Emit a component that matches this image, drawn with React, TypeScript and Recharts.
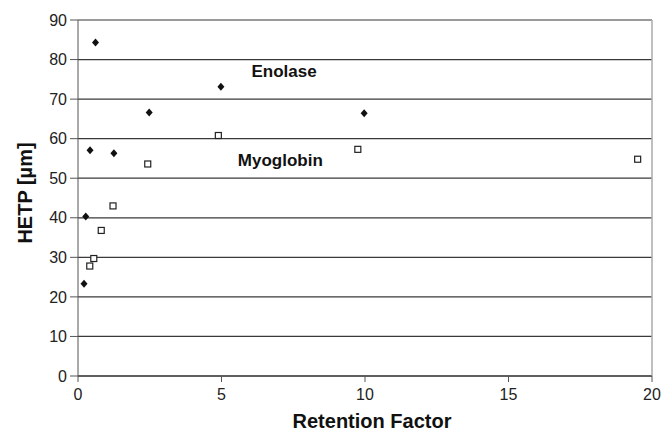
import React from 'react';
import { ScatterChart, Scatter, XAxis, YAxis, CartesianGrid, ReferenceLine, ReferenceDot } from 'recharts';

const enolaseX = [0.21, 0.27, 0.42, 0.61, 1.25, 2.48, 4.98, 9.97];
const enolaseY = [23.3, 40.3, 57.1, 84.3, 56.3, 66.6, 73.1, 66.4];
const myoglobinX = [0.41, 0.55, 0.81, 1.22, 2.43, 4.89, 9.75, 19.5];
const myoglobinY = [27.8, 29.7, 36.8, 43.0, 53.6, 60.8, 57.3, 54.8];
const xTicks = [0, 5, 10, 15, 20];
const yTicks = [0, 10, 20, 30, 40, 50, 60, 70, 80, 90];
const labelEnolase = { x: 7.18, y: 77.0, text: 'Enolase' };
const labelMyoglobin = { x: 7.05, y: 54.5, text: 'Myoglobin' };

const enolase = enolaseX.map((x, i) => ({ x, y: enolaseY[i] }));
const myoglobin = myoglobinX.map((x, i) => ({ x, y: myoglobinY[i] }));

const FONT = "Arial, 'Liberation Sans', sans-serif";

const Diamond = (props: any) => {
  const { cx, cy } = props;
  return <path d={`M${cx},${cy - 4} L${cx + 3.5},${cy} L${cx},${cy + 4} L${cx - 3.5},${cy} Z`} fill="#111" />;
};

const Square = (props: any) => {
  const { cx, cy } = props;
  return <rect x={cx - 3} y={cy - 3} width={6} height={6} fill="#fff" stroke="#222" strokeWidth={1.2} />;
};

export default function App() {
  return (
    <div style={{ width: 664, height: 433, overflow: 'hidden' }}>
      <style>{'html,body{margin:0;padding:0;overflow:hidden}'}</style>
      <ScatterChart width={664} height={433} margin={{ top: 20, right: 12, left: 0, bottom: 0 }} style={{ fontFamily: FONT }}>
        <CartesianGrid vertical={false} stroke="#3a3a3a" strokeWidth={1.3} />
        <XAxis
          type="number"
          dataKey="x"
          domain={[0, 20]}
          ticks={xTicks}
          height={57}
          tickSize={6}
          tickMargin={7}
          stroke="#555"
          tick={{ fill: '#222', fontSize: 16, fontFamily: FONT }}
          label={{ value: 'Retention Factor', position: 'insideBottom', offset: 5, dx: 7, fill: '#111', fontSize: 20, fontWeight: 'bold', fontFamily: FONT }}
        />
        <YAxis
          type="number"
          dataKey="y"
          domain={[0, 90]}
          ticks={yTicks}
          width={78}
          tickSize={8}
          tickMargin={3}
          stroke="#555"
          tick={{ fill: '#222', fontSize: 16, fontFamily: FONT }}
          label={{
            content: () => (
              <text x={25} y={193} transform="rotate(-90 25 193)" textAnchor="middle" dominantBaseline="central" fill="#111" fontSize={20} fontWeight="bold" fontFamily={FONT}>
                HETP [µm]
              </text>
            ),
          }}
        />
        <ReferenceLine y={90} stroke="#aaa" strokeWidth={1.5} />
        <ReferenceLine x={20} stroke="#aaa" strokeWidth={1.5} />
        <Scatter data={enolase} shape={Diamond} isAnimationActive={false} />
        <Scatter data={myoglobin} shape={Square} isAnimationActive={false} />
        <ReferenceDot x={labelEnolase.x} y={labelEnolase.y} r={0} stroke="none" fill="none"
          label={{ value: labelEnolase.text, position: 'center', fill: '#111', fontSize: 17, fontWeight: 'bold', fontFamily: FONT }} />
        <ReferenceDot x={labelMyoglobin.x} y={labelMyoglobin.y} r={0} stroke="none" fill="none"
          label={{ value: labelMyoglobin.text, position: 'center', fill: '#111', fontSize: 17, fontWeight: 'bold', fontFamily: FONT }} />
      </ScatterChart>
    </div>
  );
}
